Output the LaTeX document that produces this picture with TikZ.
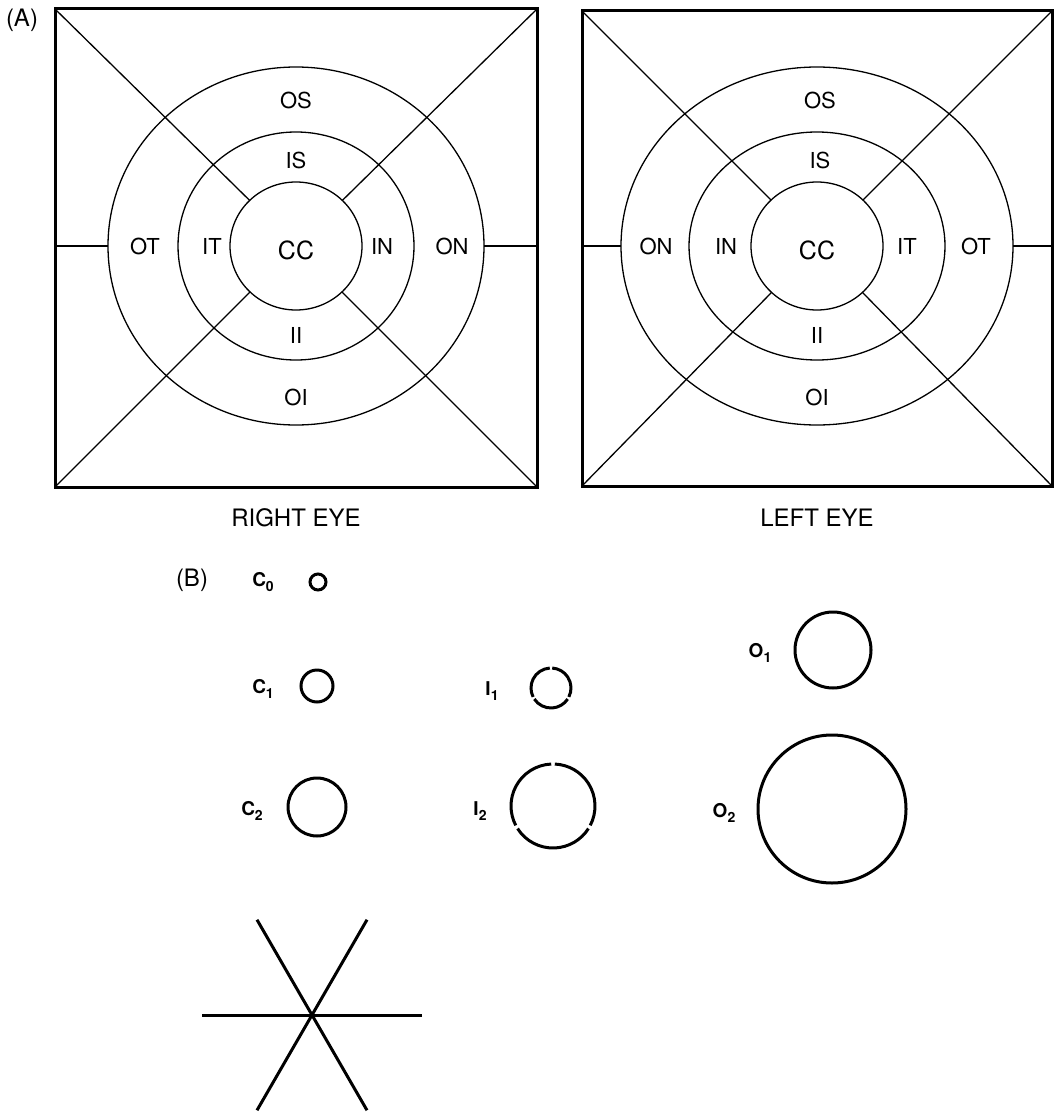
\documentclass[tikz,border=0pt]{standalone}
\usepackage{fontspec}
\setmainfont{TeX Gyre Heros}
\newcommand{\bsub}[2]{#1\raisebox{-0.28em}{\fontsize{14}{14}\selectfont #2}}
\begin{document}
\begin{tikzpicture}[x=1pt,y=-1pt,
  frame/.style={line width=3pt},
  fine/.style={line width=1.3pt},
  lab/.style={font=\fontsize{22}{22}\selectfont, inner sep=0pt},
  ttl/.style={font=\fontsize{24}{24}\selectfont, inner sep=0pt},
  biglab/.style={font=\fontsize{25}{25}\selectfont, inner sep=0pt},
  blab/.style={font=\fontsize{19}{19}\selectfont\bfseries, inner sep=0pt},
  ring/.style={line width=3pt}]
\useasboundingbox (0,0) rectangle (1054,1113);
% ---------- (A) ----------
\node[ttl] (A) at (22,20) {(A)};
% Right eye panel (left box)
\coordinate (Lc) at (296,246);
\coordinate (Lnw) at (55,9);
\coordinate (Lne) at (537,9);
\coordinate (Lsw) at (55,487);
\coordinate (Lse) at (537,487);
\draw[fine] (Lnw) -- (Lc) (Lne) -- (Lc) (Lsw) -- (Lc) (Lse) -- (Lc);
\fill[white] (Lc) ellipse [x radius=66pt, y radius=64pt];
\draw[fine] (Lc) ellipse [x radius=188pt, y radius=179pt];
\draw[fine] (Lc) ellipse [x radius=118pt, y radius=114pt];
\draw[fine] (Lc) ellipse [x radius=66pt, y radius=64pt];
\draw[fine] (55,246) -- (108,246) (484,246) -- (537,246);
\draw[frame] (Lnw) rectangle (Lse);
\node[lab] (Los) at (296,100) {OS};
\node[lab] (Lis) at (296,160) {IS};
\node[lab] (Lot) at (145,246) {OT};
\node[lab] (Lit) at (212,246) {IT};
\node[biglab] (Lcc) at (296,250) {CC};
\node[lab] (Lin) at (382,246) {IN};
\node[lab] (Lon) at (452,246) {ON};
\node[lab] (Lii) at (296,335) {II};
\node[lab] (Loi) at (296,397) {OI};
\node[ttl] (Lt) at (296,518) {RIGHT EYE};
% Left eye panel (right box)
\coordinate (Rc) at (817,246);
\coordinate (Rnw) at (582,11);
\coordinate (Rne) at (1052,11);
\coordinate (Rsw) at (582,486);
\coordinate (Rse) at (1052,486);
\draw[fine] (Rnw) -- (Rc) (Rne) -- (Rc) (Rsw) -- (Rc) (Rse) -- (Rc);
\fill[white] (Rc) ellipse [x radius=66pt, y radius=64pt];
\draw[fine] (Rc) ellipse [x radius=196pt, y radius=179pt];
\draw[fine] (Rc) ellipse [x radius=128pt, y radius=114pt];
\draw[fine] (Rc) ellipse [x radius=66pt, y radius=64pt];
\draw[fine] (582,246) -- (621,246) (1013,246) -- (1052,246);
\draw[frame] (Rnw) rectangle (Rse);
\node[lab] (Ros) at (820,100) {OS};
\node[lab] (Ris) at (820,160) {IS};
\node[lab] (Ron) at (656,246) {ON};
\node[lab] (Rin) at (726,246) {IN};
\node[biglab] (Rcc) at (817,250) {CC};
\node[lab] (Rit) at (907,246) {IT};
\node[lab] (Rot) at (976,246) {OT};
\node[lab] (Rii) at (817,335) {II};
\node[lab] (Roi) at (817,397) {OI};
\node[ttl] (Rt) at (817,518) {LEFT EYE};
% ---------- (B) ----------
\node[ttl] (B) at (192,580) {(B)};
\node[blab] (c0l) at (263,582) {\bsub{C}{0}};
\coordinate (c0) at (318,582);
\draw[ring] (c0) circle [radius=8pt];
\node[blab] (c1l) at (263,689) {\bsub{C}{1}};
\coordinate (c1) at (317,686);
\draw[ring] (c1) circle [radius=16pt];
\node[blab] (c2l) at (252,811) {\bsub{C}{2}};
\coordinate (c2) at (317,807);
\draw[ring] (c2) circle [radius=29pt];
\node[blab] (i1l) at (492,691) {\bsub{I}{1}};
\coordinate (i1) at (551,688);
\draw[ring] (i1) ++(93.5:20pt) arc [start angle=93.5, end angle=206.5, radius=20pt];
\draw[ring] (i1) ++(213.5:20pt) arc [start angle=213.5, end angle=326.5, radius=20pt];
\draw[ring] (i1) ++(333.5:20pt) arc [start angle=333.5, end angle=446.5, radius=20pt];
\node[blab] (i2l) at (480,811) {\bsub{I}{2}};
\coordinate (i2) at (553,806);
\draw[ring] (i2) ++(92.5:42pt) arc [start angle=92.5, end angle=207.5, radius=42pt];
\draw[ring] (i2) ++(212.5:42pt) arc [start angle=212.5, end angle=327.5, radius=42pt];
\draw[ring] (i2) ++(332.5:42pt) arc [start angle=332.5, end angle=447.5, radius=42pt];
\node[blab] (o1l) at (760,653) {\bsub{O}{1}};
\coordinate (o1) at (833,650);
\draw[ring] (o1) circle [radius=38pt];
\node[blab] (o2l) at (724,813) {\bsub{O}{2}};
\coordinate (o2) at (832,809);
\draw[ring] (o2) circle [radius=74pt];
% star
\coordinate (s) at (312,1015);
\draw[ring] (s) ++(0:110pt) -- ++(180:220pt);
\draw[ring] (s) ++(60:110pt) -- ++(240:220pt);
\draw[ring] (s) ++(120:110pt) -- ++(300:220pt);
\end{tikzpicture}
\end{document}
